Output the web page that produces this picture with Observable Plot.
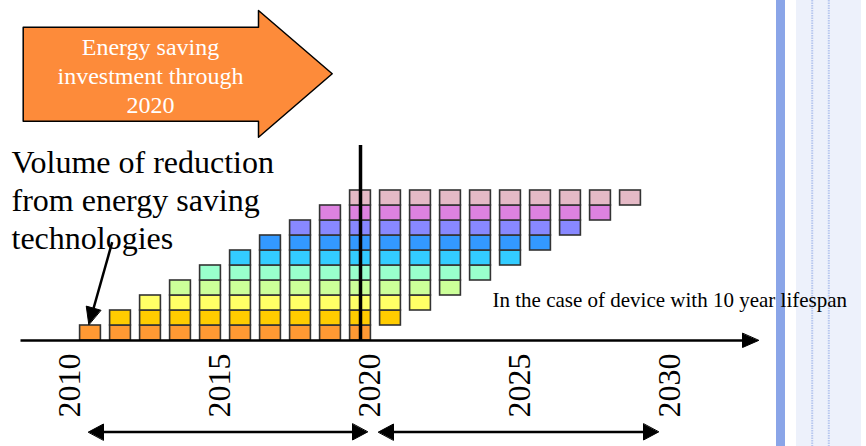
<!DOCTYPE html>
<html><head><meta charset="utf-8">
<script src="https://cdn.jsdelivr.net/npm/d3@7"></script>
<script src="https://cdn.jsdelivr.net/npm/@observablehq/plot@0.6"></script>
<style>html,body{margin:0;padding:0;background:#fff;} #chart svg{display:block}</style>
</head><body><div id="chart"></div>
<script>
// ---- data ----
const years      = [2011,2012,2013,2014,2015,2016,2017,2018,2019,2020,2021,2022,2023,2024,2025,2026,2027,2028,2029];
const firstLevel = [0,0,0,0,0,0,0,0,0,0,1,2,3,4,5,6,7,8,9];   // lowest block in each column
const lastLevel  = [0,1,2,3,4,5,6,7,8,9,9,9,9,9,9,9,9,9,9];   // highest block in each column
const levels     = [0,1,2,3,4,5,6,7,8,9];                     // investment cohorts 2011..2020
const levelColors = ["#ff9933","#ffcc00","#ffff66","#ccff99","#99ffcc","#33ccff","#3399ff","#8888ff","#dd82e0","#e5b9c6"];
const tickYears  = [2010,2015,2020,2025,2030];
const investEnd  = 2020;
const titleLines = ["Energy saving","investment through","2020"];
const noteLines  = ["Volume of reduction","from energy saving","technologies"];
const lifespanNote = "In the case of device with 10 year lifespan";

const cells = [];
years.forEach((yr, i) => { for (let l = firstLevel[i]; l <= lastLevel[i]; l++) cells.push({year: yr, level: l}); });

// ---- layout helpers (pixel -> data, matching scale domains) ----
const W = 866, H = 446;
const X = p => 2008 + p / 30;
const Y = p => (340 - p) / 15;
const serif = "Liberation Serif, Times New Roman, serif";

function tri(id, tx, ty, fx, fy, len, hw) {
  const dx = tx - fx, dy = ty - fy, L = Math.hypot(dx, dy);
  const ux = dx / L, uy = dy / L, bx = tx - ux * len, by = ty - uy * len;
  return [[tx, ty], [bx - uy * hw, by + ux * hw], [bx + uy * hw, by - ux * hw]].map(([a, b]) => ({id, x: X(a), y: Y(b)}));
}
const heads = [
  ...tri("axis", 758, 340, 700, 340, 16, 7),
  ...tri("ptr", 88.3, 324, 111.7, 241.7, 17, 7.5),
  ...tri("b1l", 88, 431.5, 200, 431.5, 15, 8),
  ...tri("b1r", 367, 431.5, 200, 431.5, 15, 8),
  ...tri("b2l", 378, 431.5, 500, 431.5, 15, 8),
  ...tri("b2r", 658, 431.5, 500, 431.5, 15, 8)
];
const segs = [
  {x1: X(20), y1: Y(340), x2: X(745), y2: Y(340), w: 2.7},
  {x1: X(111.7), y1: Y(241.7), x2: X(93), y2: Y(308), w: 2.5},
  {x1: X(100), y1: Y(431.5), x2: X(355), y2: Y(431.5), w: 2.7},
  {x1: X(390), y1: Y(431.5), x2: X(646), y2: Y(431.5), w: 2.7}
];
const bigArrow = [[22.7,26.7],[258,26.7],[258,10],[331.7,73.3],[258,136.7],[258,120.7],[22.7,120.7]].map(([a,b]) => ({x: X(a), y: Y(b)}));

const chart = Plot.plot({
  width: W, height: H,
  marginTop: 0, marginRight: 0, marginBottom: 0, marginLeft: 0,
  x: {domain: [2008, 2008 + W / 30], axis: null},
  y: {domain: [(340 - H) / 15, 340 / 15], axis: null},
  color: {type: "ordinal", domain: levels, range: levelColors},
  style: {background: "#fff", fontFamily: serif},
  marks: [
    // right-hand slide decoration
    Plot.rect([0], {x1: X(796), x2: X(861), y1: Y(0), y2: Y(H), fill: "#edf1fb"}),
    Plot.ruleX([X(811.7), X(828.3)], {y1: Y(0), y2: Y(H), stroke: "#b7c7ef", strokeWidth: 2, strokeDasharray: "1.5,1"}),
    Plot.rect([0], {x1: X(776), x2: X(785), y1: Y(0), y2: Y(H), fill: "#8aa5e8"}),
    // stacked blocks
    Plot.rect(cells, {x1: d => d.year - 0.5, x2: d => d.year + 0.5, y1: "level", y2: d => d.level + 1,
      insetLeft: 4.6, insetRight: 4.6, fill: "level", stroke: "#333", strokeWidth: 1.6}),
    // axis & arrows
    Plot.link(segs, {x1: "x1", y1: "y1", x2: "x2", y2: "y2", stroke: "#000", strokeWidth: "w"}),
    Plot.line(heads, {x: "x", y: "y", z: "id", fill: "#000", stroke: "#000", strokeWidth: 1, curve: "linear-closed"}),
    Plot.ruleX([investEnd], {y1: 0, y2: 13, stroke: "#000", strokeWidth: 3.5}),
    // big orange arrow
    Plot.line(bigArrow, {x: "x", y: "y", fill: "#fd8b3a", stroke: "#000", strokeWidth: 1.5, curve: "linear-closed"}),
    Plot.text([titleLines.join("\n")], {x: X(150), y: Y(74.3), text: d => d, fill: "#fff", fontSize: 24, lineHeight: 1.22, textAnchor: "middle", fontFamily: serif}),
    // annotations
    Plot.text([noteLines.join("\n")], {x: X(11), y: Y(145), text: d => d, fill: "#000", fontSize: 32, lineHeight: 1.19, textAnchor: "start", lineAnchor: "top", fontFamily: serif}),
    Plot.text([lifespanNote], {x: X(492), y: Y(306.5), text: d => d, fill: "#000", fontSize: 21, textAnchor: "start", lineAnchor: "bottom", fontFamily: serif}),
    // tick labels
    Plot.text(tickYears, {x: d => d, y: -3, text: d => String(d), rotate: -90, dx: 19, fontSize: 32, textAnchor: "middle", lineAnchor: "bottom", fill: "#000", fontFamily: serif})
  ]
});
document.getElementById("chart").appendChild(chart);
</script>
</body></html>
